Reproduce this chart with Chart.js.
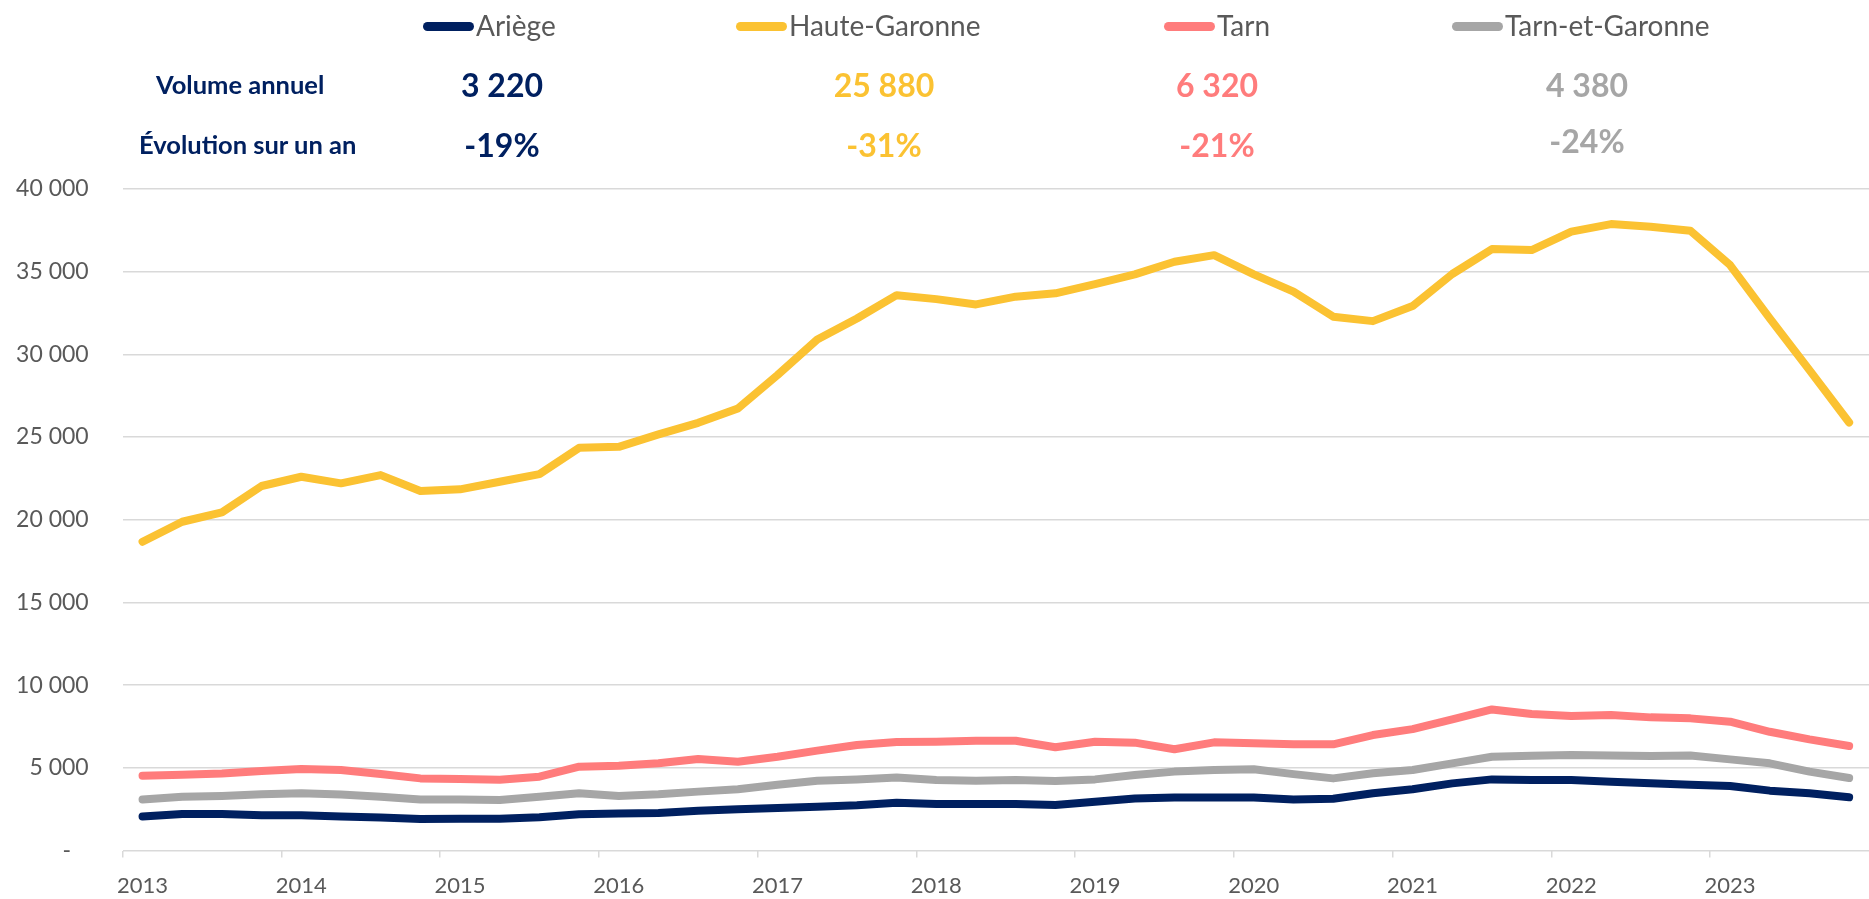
<!DOCTYPE html>
<html lang="fr">
<head>
<meta charset="utf-8">
<script src="https://cdn.jsdelivr.net/npm/chart.js@4.4.1/dist/chart.umd.min.js"></script>
<style>
    html, body { margin: 0; padding: 0; background: #fff; }
    #wrap { position: relative; width: 1869px; height: 899px; overflow: hidden; font-family: Lato, sans-serif; }
    #wrap canvas { position: absolute; left: 0; top: 0; }
    .abs { position: absolute; white-space: nowrap; line-height: 1; }
    .sym { position: absolute; width: 51px; height: 9px; border-radius: 4.5px; }
    .lgtxt { font-size: 28px; color: #595959; transform: translateY(-50%); }
    .rowlab { font-size: 25.5px; font-weight: bold; color: #002060; transform: translateY(-50%); }
    .val { font-size: 32px; font-weight: bold; transform: translate(-50%, -50%); }
</style>
</head>
<body>
<div id="wrap">
    <canvas id="chart" width="1869" height="899"></canvas>
</div>
<script>
// trimestres 2013 T1 -> 2023 T4
const categories = [
    '2013 T1', '2013 T2', '2013 T3', '2013 T4', '2014 T1', '2014 T2', '2014 T3', '2014 T4',
    '2015 T1', '2015 T2', '2015 T3', '2015 T4', '2016 T1', '2016 T2', '2016 T3', '2016 T4',
    '2017 T1', '2017 T2', '2017 T3', '2017 T4', '2018 T1', '2018 T2', '2018 T3', '2018 T4',
    '2019 T1', '2019 T2', '2019 T3', '2019 T4', '2020 T1', '2020 T2', '2020 T3', '2020 T4',
    '2021 T1', '2021 T2', '2021 T3', '2021 T4', '2022 T1', '2022 T2', '2022 T3', '2022 T4',
    '2023 T1', '2023 T2', '2023 T3', '2023 T4'
];
const tickLabels = ['2013', '2014', '2015', '2016', '2017', '2018', '2019', '2020', '2021', '2022', '2023'];

const ariege = [2050, 2210, 2210, 2130, 2130, 2050, 1990, 1900, 1920, 1920, 2010, 2190, 2230, 2270, 2410, 2490,
    2570, 2650, 2730, 2890, 2810, 2810, 2810, 2750, 2950, 3150, 3210, 3210, 3210, 3090, 3130, 3460,
    3700, 4060, 4300, 4260, 4260, 4160, 4060, 3980, 3900, 3620, 3460, 3220];
const hauteGaronne = [18670, 19880, 20450, 22040, 22600, 22200, 22700, 21740, 21840, 22300, 22760, 24350, 24410, 25160, 25860, 26730,
    28750, 30900, 32170, 33580, 33340, 33020, 33490, 33690, 34250, 34840, 35600, 36000, 34840, 33790, 32280, 32010,
    32920, 34860, 36370, 36310, 37420, 37880, 37720, 37480, 35400, 32170, 29050, 25880];
const tarn = [4520, 4580, 4650, 4810, 4930, 4870, 4620, 4360, 4320, 4280, 4460, 5070, 5130, 5270, 5530, 5370,
    5670, 6040, 6380, 6560, 6580, 6640, 6640, 6240, 6580, 6520, 6120, 6540, 6480, 6420, 6420, 6980,
    7340, 7930, 8530, 8250, 8130, 8190, 8050, 7990, 7790, 7180, 6720, 6320];
const tarnEtGaronne = [3090, 3250, 3300, 3400, 3460, 3380, 3250, 3090, 3090, 3050, 3250, 3460, 3300, 3400, 3560, 3700,
    3980, 4220, 4300, 4420, 4260, 4220, 4260, 4200, 4300, 4560, 4770, 4870, 4910, 4620, 4360, 4670,
    4870, 5270, 5670, 5730, 5770, 5750, 5710, 5750, 5510, 5270, 4770, 4380];

const names = ['Ariège', 'Haute-Garonne', 'Tarn', 'Tarn-et-Garonne'];
const series = [ariege, hauteGaronne, tarn, tarnEtGaronne];
const colors = ['#002060', '#FBC232', '#FF7C7C', '#A6A6A6'];

// bandeau du haut
const volumes = ['3 220', '25 880', '6 320', '4 380'];
const evolutions = ['-19%', '-31%', '-21%', '-24%'];

function fmt(v) {
    if (v === 0) return '-\u00a0\u00a0\u00a0';
    return String(v).replace(/\B(?=(\d{3})+(?!\d))/g, ' ');
}

const wrap = document.getElementById('wrap');
function addEl(cls, text, left, top, color) {
    const el = document.createElement('div');
    el.className = 'abs ' + cls;
    el.textContent = text;
    el.style.left = left + 'px';
    el.style.top = top + 'px';
    if (color) el.style.color = color;
    wrap.appendChild(el);
    return el;
}

// légende
const legendX = [423, 736, 1164, 1452];
names.forEach((n, i) => {
    const s = document.createElement('div');
    s.className = 'sym';
    s.style.left = legendX[i] + 'px';
    s.style.top = '21.5px';
    s.style.background = colors[i];
    wrap.appendChild(s);
    addEl('lgtxt', n, legendX[i] + 53, 24.5);
});

addEl('rowlab', 'Volume annuel', 156, 85);
addEl('rowlab', 'Évolution sur un an', 139, 145);
const colX = [502, 884, 1217, 1587];
volumes.forEach((v, i) => addEl('val', v, colX[i], 84.5, colors[i]));
evolutions.forEach((v, i) => addEl('val', v, colX[i], i === 3 ? 141 : 145, colors[i]));

new Chart(document.getElementById('chart'), {
    type: 'line',
    data: {
        labels: categories,
        datasets: names.map((n, i) => ({
            label: n,
            data: series[i],
            borderColor: colors[i],
            backgroundColor: colors[i],
            borderWidth: 8,
            pointRadius: 0,
            tension: 0,
            borderCapStyle: 'round',
            borderJoinStyle: 'round',
            clip: false
        }))
    },
    options: {
        responsive: false,
        animation: false,
        layout: { padding: { top: 189, left: 0, right: 0, bottom: 0 } },
        plugins: {
            legend: { display: false },
            tooltip: { enabled: false }
        },
        scales: {
            x: {
                offset: true,
                border: { display: false },
                grid: {
                    offset: true,
                    drawOnChartArea: false,
                    tickLength: 7,
                    lineWidth: 1.5,
                    color: ctx => ctx.index % 4 === 0 ? '#d9d9d9' : 'rgba(0,0,0,0)'
                },
                ticks: {
                    autoSkip: false,
                    maxRotation: 0,
                    padding: 15,
                    color: '#595959',
                    font: { family: 'Lato', size: 22 },
                    callback: (v, i) => i % 4 === 0 ? tickLabels[i / 4] : ''
                },
                afterFit: s => { s.height = 48.5; }
            },
            y: {
                min: 0,
                max: 40000,
                border: { display: false },
                grid: { drawTicks: false, color: '#d9d9d9', lineWidth: 1.5 },
                ticks: {
                    stepSize: 5000,
                    padding: 34,
                    color: '#595959',
                    font: { family: 'Lato', size: 23 },
                    callback: v => fmt(v)
                },
                afterFit: s => { s.width = 122.7; }
            }
        }
    }
});
</script>
</body>
</html>
